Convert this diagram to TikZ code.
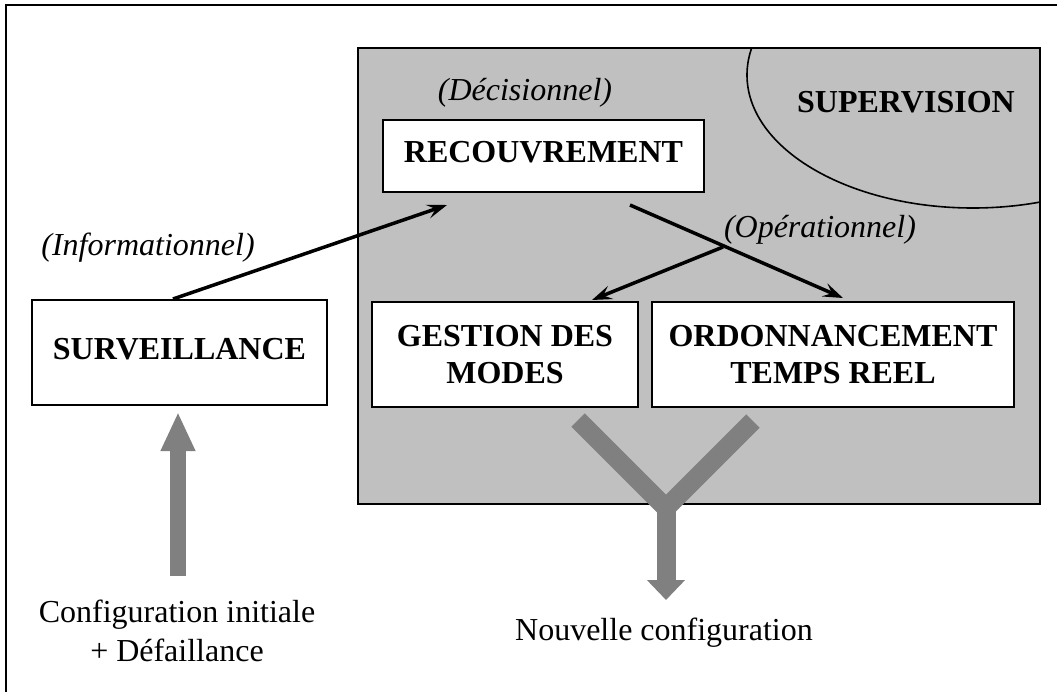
\documentclass[tikz,border=0pt]{standalone}
\usepackage{fontspec}
\setmainfont{Liberation Serif}
\usetikzlibrary{arrows.meta}
\definecolor{panelgray}{RGB}{192,192,192}
\definecolor{fluxgray}{RGB}{128,128,128}

\begin{document}
\begin{tikzpicture}
		[x=0.5pt,y=-0.5pt,
		every node/.style={font=\fontsize{16pt}{19.5pt}\selectfont},
		bloc/.style={draw,fill=white,line width=1pt,align=center,inner sep=0pt,font=\fontsize{16pt}{18.5pt}\selectfont\bfseries},
		note/.style={font=\fontsize{16pt}{19pt}\selectfont\itshape},
		edge/.style={-{Stealth[length=10pt,width=7pt,inset=4pt]},line width=1.75pt},
		flux/.style={draw=fluxgray,line width=8pt,-{Triangle[length=19.5pt,width=16pt]}}]
		\useasboundingbox (0,0) rectangle (1057,692);
		\draw[line width=1pt] (6,692) -- (6,5) -- (1057,5);
		
		% zone de supervision
		\draw[fill=panelgray,line width=1pt] (358,48) rectangle (1040,504);
		\begin{scope}
		\clip (358,48) rectangle (1040,504);
		\draw[line width=0.8pt] (973,75) ellipse [x radius=113pt, y radius=66.5pt];
		\end{scope}
		\node[font=\fontsize{16pt}{19pt}\selectfont\bfseries] (superv) at (906,102) {SUPERVISION};
		
		\node[bloc,text depth=4pt,minimum width=160.5pt,minimum height=36pt] (recouv) at (543.5,156) {RECOUVREMENT};
		\node[bloc,text depth=4pt,minimum width=147.5pt,minimum height=52.5pt] (surv) at (179.5,352.5) {SURVEILLANCE};
		\node[bloc,minimum width=133pt,minimum height=52.5pt] (modes) at (505,354.5) {GESTION DES\\MODES};
		\node[bloc,minimum width=181pt,minimum height=52.5pt] (ordo) at (833,354.5) {ORDONNANCEMENT\\TEMPS REEL};
		
		\node[note] (info) at (148,248) {(Informationnel)};
		\node[note] (decis) at (525,93) {(Décisionnel)};
		\node[note] (operat) at (820,230) {(Opérationnel)};
		
		\node[align=center] (cfg) at (177,631) {Configuration initiale\\+ Défaillance};
		\node (nouv) at (664,633) {Nouvelle configuration};
		
		\coordinate (r-in) at (447,205);
		\coordinate (r-out) at (630,205);
		\coordinate (o-in) at (843,298);
		\coordinate (split) at (723,247);
		\coordinate (m-in) at (592,300);
		\draw[edge] ([xshift=-3.25pt]surv.north) -- (r-in);
		\foreach \from/\to in {r-out/o-in,split/m-in}
		\draw[edge] (\from) -- (\to);
		
		% fleches grises
		\coordinate (cfg-top) at (178,576);
		\draw[flux] (cfg-top) -- ([xshift=-0.75pt,yshift=-3pt]surv.south);
		\coordinate (y-left) at (578,420);
		\coordinate (y-right) at (753,421);
		\coordinate (y-join) at (666,508);
		\coordinate (y-tip) at (666,600);
		\draw[fluxgray,line width=9.5pt,line join=bevel] (y-left) -- (y-join) -- (y-right);
		\draw[flux,line width=9.5pt,-{Triangle[length=10pt,width=18.5pt]}] (y-join) -- (y-tip);
\end{tikzpicture}
\end{document}
